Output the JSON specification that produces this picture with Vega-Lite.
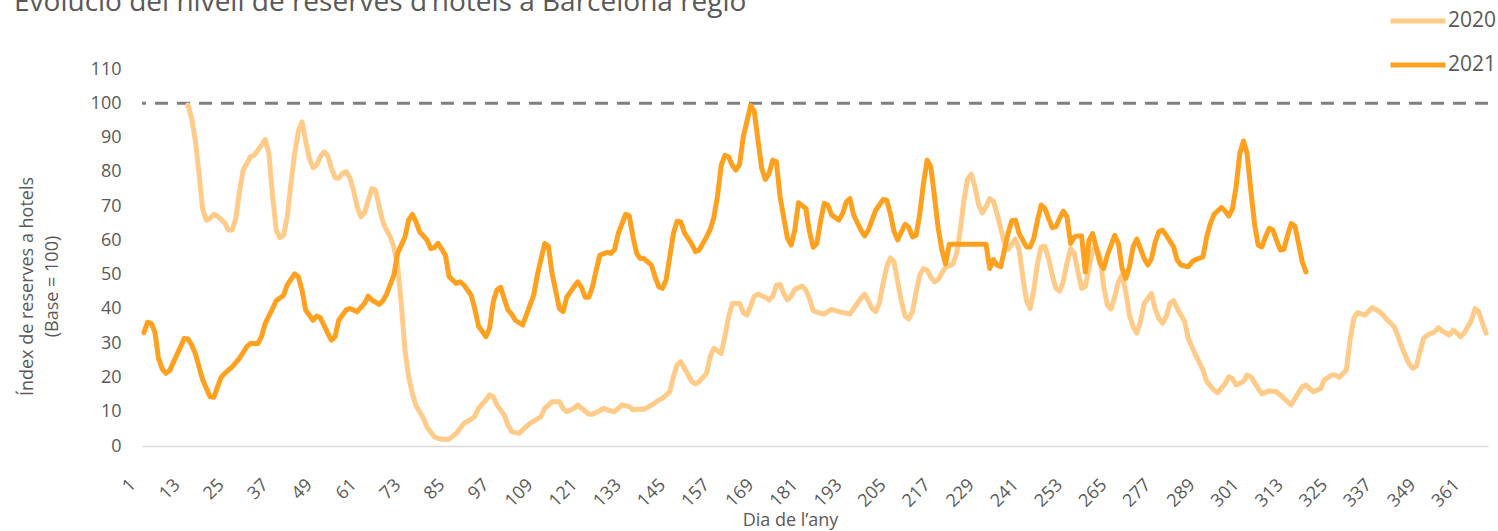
{
  "$schema": "https://vega.github.io/schema/vega-lite/v6.json",
  "width": 1346,
  "height": 377,
  "autosize": {"type": "none"},
  "padding": {"left": 142, "top": 69, "right": 10, "bottom": 85},
  "background": "white",
  "config": {"view": {"stroke": null}, "font": "Open Sans"},
  "title": {
    "text": "Evolució del nivell de reserves d’hotels a Barcelona regió",
    "anchor": "start",
    "frame": "group",
    "dx": -128,
    "offset": -48,
    "baseline": "alphabetic",
    "fontSize": 28,
    "fontWeight": "normal",
    "color": "#595959",
    "font": "Open Sans"
  },
  "encoding": {
    "y": {
      "field": "value", "type": "quantitative",
      "scale": {"domain": [0, 110], "nice": false},
      "axis": {
        "values": [0,10,20,30,40,50,60,70,80,90,100,110],
        "grid": false, "domain": false, "ticks": false, "tickSize": 0,
        "labelOverlap": false, "labelFlush": false, "labelBound": false,
        "labelPadding": 21, "labelFontSize": 18, "labelColor": "#595959", "labelFont": "Open Sans",
        "title": ["Índex de reserves a hotels", "(Base = 100)"],
        "titleFontSize": 18, "titleFontWeight": "normal", "titleColor": "#595959", "titleFont": "Open Sans",
        "titleX": -110, "titleY": 217, "titleAngle": -90, "titleBaseline": "alphabetic", "titleAlign": "center", "titleLineHeight": 25
      }
    }
  },
  "layer": [
    {
      "data": {"values": [{"value": 100}]},
      "mark": {"type": "rule", "color": "#7f7f7f", "strokeWidth": 3, "strokeDash": [13, 9]}
    },
    {
      "data": {"name": "series", "values": [
        {"year":"2020","day":13,"value":99.5},{"year":"2020","day":14,"value":95.5},{"year":"2020","day":15,"value":89.2},{"year":"2020","day":16,"value":79.5},{"year":"2020","day":17,"value":69.0},{"year":"2020","day":18,"value":65.9},{"year":"2020","day":19,"value":66.4},{"year":"2020","day":20,"value":67.6},{"year":"2020","day":21,"value":67.1},{"year":"2020","day":23,"value":65.1},{"year":"2020","day":24,"value":63.0},{"year":"2020","day":25,"value":63.0},{"year":"2020","day":26,"value":66.4},{"year":"2020","day":27,"value":74.2},{"year":"2020","day":28,"value":80.5},{"year":"2020","day":30,"value":84.4},{"year":"2020","day":31,"value":84.8},{"year":"2020","day":33,"value":87.8},{"year":"2020","day":34,"value":89.4},{"year":"2020","day":35,"value":85.3},{"year":"2020","day":36,"value":73.0},{"year":"2020","day":37,"value":63.0},{"year":"2020","day":38,"value":60.8},{"year":"2020","day":39,"value":61.5},{"year":"2020","day":40,"value":66.9},{"year":"2020","day":41,"value":76.6},{"year":"2020","day":42,"value":85.3},{"year":"2020","day":43,"value":91.7},{"year":"2020","day":44,"value":94.6},{"year":"2020","day":45,"value":89.0},{"year":"2020","day":46,"value":84.0},{"year":"2020","day":47,"value":81.2},{"year":"2020","day":48,"value":82.0},{"year":"2020","day":49,"value":84.5},{"year":"2020","day":50,"value":85.8},{"year":"2020","day":51,"value":84.8},{"year":"2020","day":52,"value":81.0},{"year":"2020","day":53,"value":78.3},{"year":"2020","day":54,"value":78.1},{"year":"2020","day":55,"value":79.5},{"year":"2020","day":56,"value":80.0},{"year":"2020","day":57,"value":78.3},{"year":"2020","day":58,"value":74.6},{"year":"2020","day":59,"value":69.8},{"year":"2020","day":60,"value":66.9},{"year":"2020","day":61,"value":68.0},{"year":"2020","day":62,"value":71.7},{"year":"2020","day":63,"value":75.1},{"year":"2020","day":64,"value":74.6},{"year":"2020","day":65,"value":69.8},{"year":"2020","day":66,"value":65.4},{"year":"2020","day":67,"value":63.0},{"year":"2020","day":68,"value":61.0},{"year":"2020","day":69,"value":58.0},{"year":"2020","day":70,"value":52.5},{"year":"2020","day":71,"value":41.5},{"year":"2020","day":72,"value":28.0},{"year":"2020","day":73,"value":20.2},{"year":"2020","day":74,"value":15.4},{"year":"2020","day":75,"value":11.8},{"year":"2020","day":77,"value":8.1},{"year":"2020","day":78,"value":5.5},{"year":"2020","day":80,"value":2.7},{"year":"2020","day":81,"value":2.2},{"year":"2020","day":82,"value":2.0},{"year":"2020","day":84,"value":2.0},{"year":"2020","day":86,"value":3.7},{"year":"2020","day":88,"value":6.6},{"year":"2020","day":90,"value":7.8},{"year":"2020","day":91,"value":8.6},{"year":"2020","day":92,"value":11.0},{"year":"2020","day":94,"value":13.4},{"year":"2020","day":95,"value":14.9},{"year":"2020","day":96,"value":14.4},{"year":"2020","day":97,"value":12.0},{"year":"2020","day":99,"value":9.0},{"year":"2020","day":100,"value":6.1},{"year":"2020","day":101,"value":4.2},{"year":"2020","day":103,"value":3.7},{"year":"2020","day":104,"value":4.7},{"year":"2020","day":106,"value":6.6},{"year":"2020","day":109,"value":8.6},{"year":"2020","day":110,"value":11.0},{"year":"2020","day":112,"value":12.9},{"year":"2020","day":114,"value":12.9},{"year":"2020","day":115,"value":11.0},{"year":"2020","day":116,"value":10.0},{"year":"2020","day":118,"value":11.0},{"year":"2020","day":119,"value":12.0},{"year":"2020","day":120,"value":11.0},{"year":"2020","day":122,"value":9.3},{"year":"2020","day":123,"value":9.3},{"year":"2020","day":125,"value":10.3},{"year":"2020","day":126,"value":11.0},{"year":"2020","day":127,"value":10.5},{"year":"2020","day":129,"value":10.0},{"year":"2020","day":130,"value":11.0},{"year":"2020","day":131,"value":12.0},{"year":"2020","day":133,"value":11.5},{"year":"2020","day":134,"value":10.5},{"year":"2020","day":135,"value":10.7},{"year":"2020","day":137,"value":10.7},{"year":"2020","day":138,"value":11.3},{"year":"2020","day":140,"value":12.6},{"year":"2020","day":141,"value":13.4},{"year":"2020","day":142,"value":13.9},{"year":"2020","day":144,"value":15.8},{"year":"2020","day":145,"value":20.2},{"year":"2020","day":146,"value":23.6},{"year":"2020","day":147,"value":24.6},{"year":"2020","day":148,"value":22.7},{"year":"2020","day":150,"value":18.8},{"year":"2020","day":151,"value":18.1},{"year":"2020","day":152,"value":18.8},{"year":"2020","day":154,"value":21.2},{"year":"2020","day":155,"value":26.1},{"year":"2020","day":156,"value":28.5},{"year":"2020","day":157,"value":27.8},{"year":"2020","day":158,"value":27.0},{"year":"2020","day":159,"value":31.9},{"year":"2020","day":160,"value":37.7},{"year":"2020","day":161,"value":41.6},{"year":"2020","day":163,"value":41.6},{"year":"2020","day":164,"value":38.9},{"year":"2020","day":165,"value":38.2},{"year":"2020","day":166,"value":40.8},{"year":"2020","day":167,"value":43.7},{"year":"2020","day":168,"value":44.3},{"year":"2020","day":170,"value":43.4},{"year":"2020","day":171,"value":42.6},{"year":"2020","day":172,"value":43.7},{"year":"2020","day":173,"value":46.9},{"year":"2020","day":174,"value":47.1},{"year":"2020","day":175,"value":44.5},{"year":"2020","day":176,"value":42.6},{"year":"2020","day":177,"value":43.7},{"year":"2020","day":178,"value":45.7},{"year":"2020","day":180,"value":46.7},{"year":"2020","day":181,"value":45.5},{"year":"2020","day":182,"value":43.0},{"year":"2020","day":183,"value":39.5},{"year":"2020","day":184,"value":39.0},{"year":"2020","day":186,"value":38.5},{"year":"2020","day":188,"value":39.9},{"year":"2020","day":190,"value":39.2},{"year":"2020","day":193,"value":38.5},{"year":"2020","day":194,"value":40.1},{"year":"2020","day":196,"value":43.1},{"year":"2020","day":197,"value":44.3},{"year":"2020","day":198,"value":42.4},{"year":"2020","day":199,"value":40.1},{"year":"2020","day":200,"value":39.2},{"year":"2020","day":201,"value":41.8},{"year":"2020","day":202,"value":47.4},{"year":"2020","day":203,"value":52.3},{"year":"2020","day":204,"value":54.9},{"year":"2020","day":205,"value":53.7},{"year":"2020","day":206,"value":47.9},{"year":"2020","day":207,"value":42.1},{"year":"2020","day":208,"value":37.9},{"year":"2020","day":209,"value":37.0},{"year":"2020","day":210,"value":39.2},{"year":"2020","day":211,"value":45.0},{"year":"2020","day":212,"value":49.9},{"year":"2020","day":213,"value":51.8},{"year":"2020","day":214,"value":51.3},{"year":"2020","day":215,"value":49.2},{"year":"2020","day":216,"value":47.9},{"year":"2020","day":217,"value":48.6},{"year":"2020","day":218,"value":50.5},{"year":"2020","day":219,"value":52.1},{"year":"2020","day":221,"value":53.1},{"year":"2020","day":222,"value":56.2},{"year":"2020","day":223,"value":63.0},{"year":"2020","day":224,"value":71.7},{"year":"2020","day":225,"value":78.0},{"year":"2020","day":226,"value":79.3},{"year":"2020","day":227,"value":75.6},{"year":"2020","day":228,"value":70.3},{"year":"2020","day":229,"value":68.0},{"year":"2020","day":230,"value":69.8},{"year":"2020","day":231,"value":72.2},{"year":"2020","day":232,"value":71.4},{"year":"2020","day":233,"value":67.8},{"year":"2020","day":234,"value":63.5},{"year":"2020","day":235,"value":59.1},{"year":"2020","day":236,"value":57.3},{"year":"2020","day":237,"value":58.9},{"year":"2020","day":238,"value":60.4},{"year":"2020","day":239,"value":57.2},{"year":"2020","day":240,"value":49.4},{"year":"2020","day":241,"value":42.4},{"year":"2020","day":242,"value":40.1},{"year":"2020","day":243,"value":45.5},{"year":"2020","day":244,"value":53.3},{"year":"2020","day":245,"value":58.1},{"year":"2020","day":246,"value":58.3},{"year":"2020","day":247,"value":54.7},{"year":"2020","day":248,"value":49.9},{"year":"2020","day":249,"value":46.0},{"year":"2020","day":250,"value":45.2},{"year":"2020","day":251,"value":47.9},{"year":"2020","day":252,"value":53.3},{"year":"2020","day":253,"value":57.6},{"year":"2020","day":254,"value":56.2},{"year":"2020","day":255,"value":50.8},{"year":"2020","day":256,"value":46.0},{"year":"2020","day":257,"value":46.5},{"year":"2020","day":258,"value":51.8},{"year":"2020","day":259,"value":57.3},{"year":"2020","day":260,"value":58.1},{"year":"2020","day":261,"value":55.2},{"year":"2020","day":262,"value":46.5},{"year":"2020","day":263,"value":41.1},{"year":"2020","day":264,"value":40.0},{"year":"2020","day":265,"value":43.5},{"year":"2020","day":266,"value":47.9},{"year":"2020","day":267,"value":49.9},{"year":"2020","day":268,"value":45.0},{"year":"2020","day":269,"value":38.2},{"year":"2020","day":270,"value":34.8},{"year":"2020","day":271,"value":32.9},{"year":"2020","day":272,"value":36.3},{"year":"2020","day":273,"value":41.6},{"year":"2020","day":275,"value":44.5},{"year":"2020","day":276,"value":40.0},{"year":"2020","day":277,"value":37.2},{"year":"2020","day":278,"value":35.8},{"year":"2020","day":279,"value":37.7},{"year":"2020","day":280,"value":41.6},{"year":"2020","day":281,"value":42.4},{"year":"2020","day":282,"value":40.1},{"year":"2020","day":284,"value":36.3},{"year":"2020","day":285,"value":31.4},{"year":"2020","day":287,"value":26.5},{"year":"2020","day":289,"value":22.2},{"year":"2020","day":290,"value":18.8},{"year":"2020","day":292,"value":16.3},{"year":"2020","day":293,"value":15.6},{"year":"2020","day":295,"value":18.1},{"year":"2020","day":296,"value":20.2},{"year":"2020","day":297,"value":19.7},{"year":"2020","day":298,"value":17.8},{"year":"2020","day":300,"value":18.8},{"year":"2020","day":301,"value":20.7},{"year":"2020","day":302,"value":20.2},{"year":"2020","day":304,"value":16.8},{"year":"2020","day":305,"value":15.2},{"year":"2020","day":307,"value":16.1},{"year":"2020","day":309,"value":15.8},{"year":"2020","day":310,"value":14.9},{"year":"2020","day":312,"value":12.9},{"year":"2020","day":313,"value":12.0},{"year":"2020","day":314,"value":13.9},{"year":"2020","day":316,"value":17.3},{"year":"2020","day":317,"value":17.8},{"year":"2020","day":319,"value":15.8},{"year":"2020","day":321,"value":16.8},{"year":"2020","day":322,"value":19.3},{"year":"2020","day":324,"value":20.7},{"year":"2020","day":325,"value":20.7},{"year":"2020","day":326,"value":20.0},{"year":"2020","day":328,"value":22.2},{"year":"2020","day":329,"value":31.0},{"year":"2020","day":330,"value":37.2},{"year":"2020","day":331,"value":38.9},{"year":"2020","day":333,"value":38.2},{"year":"2020","day":334,"value":39.2},{"year":"2020","day":335,"value":40.4},{"year":"2020","day":337,"value":39.2},{"year":"2020","day":338,"value":38.2},{"year":"2020","day":339,"value":36.9},{"year":"2020","day":341,"value":34.8},{"year":"2020","day":342,"value":32.1},{"year":"2020","day":343,"value":29.0},{"year":"2020","day":344,"value":26.5},{"year":"2020","day":345,"value":24.0},{"year":"2020","day":346,"value":22.7},{"year":"2020","day":347,"value":23.3},{"year":"2020","day":348,"value":27.5},{"year":"2020","day":349,"value":31.4},{"year":"2020","day":350,"value":32.4},{"year":"2020","day":352,"value":33.3},{"year":"2020","day":353,"value":34.5},{"year":"2020","day":354,"value":33.6},{"year":"2020","day":356,"value":32.4},{"year":"2020","day":357,"value":33.8},{"year":"2020","day":358,"value":33.0},{"year":"2020","day":359,"value":31.9},{"year":"2020","day":360,"value":32.9},{"year":"2020","day":362,"value":36.7},{"year":"2020","day":363,"value":40.1},{"year":"2020","day":364,"value":39.2},{"year":"2020","day":365,"value":35.8},{"year":"2020","day":366,"value":32.9},
        {"year":"2021","day":1,"value":33.1},{"year":"2021","day":2,"value":36.1},{"year":"2021","day":3,"value":35.8},{"year":"2021","day":4,"value":33.3},{"year":"2021","day":5,"value":25.5},{"year":"2021","day":6,"value":22.5},{"year":"2021","day":7,"value":21.2},{"year":"2021","day":8,"value":22.0},{"year":"2021","day":11,"value":29.0},{"year":"2021","day":12,"value":31.4},{"year":"2021","day":13,"value":31.2},{"year":"2021","day":14,"value":29.5},{"year":"2021","day":15,"value":27.0},{"year":"2021","day":17,"value":19.3},{"year":"2021","day":19,"value":14.4},{"year":"2021","day":20,"value":14.2},{"year":"2021","day":22,"value":20.0},{"year":"2021","day":23,"value":21.2},{"year":"2021","day":25,"value":23.1},{"year":"2021","day":27,"value":25.6},{"year":"2021","day":29,"value":29.0},{"year":"2021","day":30,"value":29.9},{"year":"2021","day":32,"value":29.9},{"year":"2021","day":33,"value":31.9},{"year":"2021","day":34,"value":35.8},{"year":"2021","day":36,"value":40.1},{"year":"2021","day":37,"value":42.4},{"year":"2021","day":39,"value":44.0},{"year":"2021","day":40,"value":47.0},{"year":"2021","day":42,"value":50.2},{"year":"2021","day":43,"value":49.4},{"year":"2021","day":44,"value":45.5},{"year":"2021","day":45,"value":39.7},{"year":"2021","day":47,"value":36.7},{"year":"2021","day":48,"value":37.9},{"year":"2021","day":49,"value":37.4},{"year":"2021","day":51,"value":32.9},{"year":"2021","day":52,"value":30.9},{"year":"2021","day":53,"value":31.9},{"year":"2021","day":54,"value":36.7},{"year":"2021","day":56,"value":39.7},{"year":"2021","day":57,"value":40.1},{"year":"2021","day":59,"value":39.2},{"year":"2021","day":61,"value":41.6},{"year":"2021","day":62,"value":43.7},{"year":"2021","day":63,"value":42.6},{"year":"2021","day":65,"value":41.3},{"year":"2021","day":66,"value":42.4},{"year":"2021","day":67,"value":44.3},{"year":"2021","day":69,"value":49.9},{"year":"2021","day":70,"value":56.2},{"year":"2021","day":72,"value":61.0},{"year":"2021","day":73,"value":65.9},{"year":"2021","day":74,"value":67.6},{"year":"2021","day":75,"value":65.4},{"year":"2021","day":76,"value":62.5},{"year":"2021","day":78,"value":60.1},{"year":"2021","day":79,"value":57.6},{"year":"2021","day":80,"value":57.9},{"year":"2021","day":81,"value":59.1},{"year":"2021","day":83,"value":55.7},{"year":"2021","day":84,"value":49.4},{"year":"2021","day":86,"value":47.4},{"year":"2021","day":87,"value":47.9},{"year":"2021","day":88,"value":47.0},{"year":"2021","day":90,"value":44.0},{"year":"2021","day":91,"value":40.0},{"year":"2021","day":92,"value":35.0},{"year":"2021","day":94,"value":31.9},{"year":"2021","day":95,"value":34.3},{"year":"2021","day":96,"value":42.0},{"year":"2021","day":97,"value":45.5},{"year":"2021","day":98,"value":46.3},{"year":"2021","day":100,"value":39.7},{"year":"2021","day":101,"value":38.5},{"year":"2021","day":102,"value":36.7},{"year":"2021","day":104,"value":35.3},{"year":"2021","day":105,"value":38.2},{"year":"2021","day":107,"value":44.0},{"year":"2021","day":108,"value":49.9},{"year":"2021","day":110,"value":59.1},{"year":"2021","day":111,"value":58.3},{"year":"2021","day":112,"value":50.3},{"year":"2021","day":114,"value":40.1},{"year":"2021","day":115,"value":39.2},{"year":"2021","day":116,"value":43.4},{"year":"2021","day":118,"value":46.5},{"year":"2021","day":119,"value":47.9},{"year":"2021","day":120,"value":46.3},{"year":"2021","day":121,"value":43.4},{"year":"2021","day":122,"value":43.4},{"year":"2021","day":123,"value":46.5},{"year":"2021","day":124,"value":51.3},{"year":"2021","day":125,"value":55.7},{"year":"2021","day":127,"value":56.5},{"year":"2021","day":128,"value":56.2},{"year":"2021","day":129,"value":57.3},{"year":"2021","day":130,"value":62.0},{"year":"2021","day":132,"value":67.6},{"year":"2021","day":133,"value":67.1},{"year":"2021","day":134,"value":61.0},{"year":"2021","day":135,"value":56.2},{"year":"2021","day":136,"value":54.7},{"year":"2021","day":137,"value":54.7},{"year":"2021","day":139,"value":52.8},{"year":"2021","day":140,"value":49.4},{"year":"2021","day":141,"value":46.5},{"year":"2021","day":142,"value":46.0},{"year":"2021","day":143,"value":48.4},{"year":"2021","day":144,"value":55.2},{"year":"2021","day":145,"value":62.0},{"year":"2021","day":146,"value":65.6},{"year":"2021","day":147,"value":65.4},{"year":"2021","day":148,"value":62.2},{"year":"2021","day":150,"value":58.9},{"year":"2021","day":151,"value":56.7},{"year":"2021","day":152,"value":57.2},{"year":"2021","day":154,"value":61.0},{"year":"2021","day":155,"value":63.2},{"year":"2021","day":156,"value":66.7},{"year":"2021","day":157,"value":73.0},{"year":"2021","day":158,"value":81.9},{"year":"2021","day":159,"value":84.8},{"year":"2021","day":160,"value":84.4},{"year":"2021","day":161,"value":81.9},{"year":"2021","day":162,"value":80.5},{"year":"2021","day":163,"value":82.2},{"year":"2021","day":164,"value":90.2},{"year":"2021","day":166,"value":99.4},{"year":"2021","day":167,"value":97.5},{"year":"2021","day":168,"value":89.2},{"year":"2021","day":169,"value":81.0},{"year":"2021","day":170,"value":77.8},{"year":"2021","day":171,"value":79.5},{"year":"2021","day":172,"value":83.4},{"year":"2021","day":173,"value":82.9},{"year":"2021","day":174,"value":72.7},{"year":"2021","day":176,"value":60.6},{"year":"2021","day":177,"value":58.6},{"year":"2021","day":178,"value":63.0},{"year":"2021","day":179,"value":71.0},{"year":"2021","day":181,"value":69.3},{"year":"2021","day":182,"value":62.5},{"year":"2021","day":183,"value":58.0},{"year":"2021","day":184,"value":59.1},{"year":"2021","day":185,"value":65.5},{"year":"2021","day":186,"value":70.8},{"year":"2021","day":187,"value":70.3},{"year":"2021","day":188,"value":67.4},{"year":"2021","day":190,"value":65.9},{"year":"2021","day":191,"value":67.8},{"year":"2021","day":192,"value":71.2},{"year":"2021","day":193,"value":72.2},{"year":"2021","day":194,"value":67.4},{"year":"2021","day":196,"value":63.0},{"year":"2021","day":197,"value":61.3},{"year":"2021","day":198,"value":63.0},{"year":"2021","day":200,"value":68.8},{"year":"2021","day":201,"value":70.3},{"year":"2021","day":202,"value":71.9},{"year":"2021","day":203,"value":71.7},{"year":"2021","day":204,"value":67.8},{"year":"2021","day":205,"value":62.5},{"year":"2021","day":206,"value":60.1},{"year":"2021","day":207,"value":62.5},{"year":"2021","day":208,"value":64.7},{"year":"2021","day":209,"value":63.8},{"year":"2021","day":210,"value":61.0},{"year":"2021","day":211,"value":61.5},{"year":"2021","day":212,"value":67.8},{"year":"2021","day":213,"value":76.6},{"year":"2021","day":214,"value":83.4},{"year":"2021","day":215,"value":81.4},{"year":"2021","day":216,"value":72.7},{"year":"2021","day":217,"value":63.5},{"year":"2021","day":218,"value":57.2},{"year":"2021","day":219,"value":53.1},{"year":"2021","day":220,"value":58.9},{"year":"2021","day":221,"value":58.9},{"year":"2021","day":222,"value":58.9},{"year":"2021","day":223,"value":58.9},{"year":"2021","day":224,"value":58.9},{"year":"2021","day":225,"value":58.9},{"year":"2021","day":226,"value":58.9},{"year":"2021","day":227,"value":58.9},{"year":"2021","day":228,"value":58.9},{"year":"2021","day":229,"value":58.9},{"year":"2021","day":230,"value":58.9},{"year":"2021","day":231,"value":51.8},{"year":"2021","day":232,"value":54.4},{"year":"2021","day":233,"value":52.8},{"year":"2021","day":234,"value":52.3},{"year":"2021","day":235,"value":57.2},{"year":"2021","day":236,"value":62.0},{"year":"2021","day":237,"value":65.7},{"year":"2021","day":238,"value":65.9},{"year":"2021","day":239,"value":62.0},{"year":"2021","day":241,"value":58.1},{"year":"2021","day":242,"value":58.1},{"year":"2021","day":243,"value":60.6},{"year":"2021","day":244,"value":65.9},{"year":"2021","day":245,"value":70.3},{"year":"2021","day":246,"value":69.3},{"year":"2021","day":247,"value":66.4},{"year":"2021","day":248,"value":63.7},{"year":"2021","day":249,"value":64.0},{"year":"2021","day":250,"value":66.4},{"year":"2021","day":251,"value":68.5},{"year":"2021","day":252,"value":66.9},{"year":"2021","day":253,"value":59.1},{"year":"2021","day":254,"value":61.0},{"year":"2021","day":255,"value":61.3},{"year":"2021","day":256,"value":61.3},{"year":"2021","day":257,"value":50.8},{"year":"2021","day":258,"value":60.0},{"year":"2021","day":259,"value":62.0},{"year":"2021","day":260,"value":57.6},{"year":"2021","day":261,"value":53.3},{"year":"2021","day":262,"value":51.8},{"year":"2021","day":263,"value":55.7},{"year":"2021","day":265,"value":61.5},{"year":"2021","day":266,"value":59.1},{"year":"2021","day":267,"value":51.8},{"year":"2021","day":268,"value":48.9},{"year":"2021","day":269,"value":52.3},{"year":"2021","day":270,"value":58.1},{"year":"2021","day":271,"value":60.4},{"year":"2021","day":272,"value":57.6},{"year":"2021","day":273,"value":54.7},{"year":"2021","day":274,"value":52.8},{"year":"2021","day":275,"value":54.7},{"year":"2021","day":276,"value":59.5},{"year":"2021","day":277,"value":62.5},{"year":"2021","day":278,"value":63.0},{"year":"2021","day":279,"value":61.5},{"year":"2021","day":281,"value":58.1},{"year":"2021","day":282,"value":54.2},{"year":"2021","day":283,"value":52.8},{"year":"2021","day":285,"value":52.3},{"year":"2021","day":286,"value":53.7},{"year":"2021","day":287,"value":54.4},{"year":"2021","day":289,"value":55.2},{"year":"2021","day":290,"value":61.0},{"year":"2021","day":291,"value":64.9},{"year":"2021","day":292,"value":67.6},{"year":"2021","day":294,"value":69.6},{"year":"2021","day":295,"value":68.6},{"year":"2021","day":296,"value":67.1},{"year":"2021","day":297,"value":69.1},{"year":"2021","day":298,"value":75.6},{"year":"2021","day":299,"value":85.3},{"year":"2021","day":300,"value":89.0},{"year":"2021","day":301,"value":85.3},{"year":"2021","day":302,"value":74.6},{"year":"2021","day":303,"value":64.9},{"year":"2021","day":304,"value":58.6},{"year":"2021","day":305,"value":58.1},{"year":"2021","day":306,"value":61.0},{"year":"2021","day":307,"value":63.5},{"year":"2021","day":308,"value":63.0},{"year":"2021","day":309,"value":60.1},{"year":"2021","day":310,"value":57.2},{"year":"2021","day":311,"value":57.4},{"year":"2021","day":312,"value":61.5},{"year":"2021","day":313,"value":64.9},{"year":"2021","day":314,"value":64.1},{"year":"2021","day":315,"value":59.1},{"year":"2021","day":316,"value":53.7},{"year":"2021","day":317,"value":50.8}
      ]},
      "mark": {"type": "line", "strokeWidth": 5, "strokeCap": "round", "strokeJoin": "round"},
      "encoding": {
        "x": {
          "field": "day", "type": "quantitative",
          "scale": {"domain": [0.5, 366.5], "nice": false, "zero": false},
          "axis": {
            "values": [1,13,25,37,49,61,73,85,97,109,121,133,145,157,169,181,193,205,217,229,241,253,265,277,289,301,313,325,337,349,361],
            "labelAngle": -45, "labelAlign": "right", "labelBaseline": "middle",
            "labelOffset": -11, "labelPadding": 36, "labelOverlap": false, "labelFlush": false, "labelBound": false,
            "ticks": false, "tickSize": 0, "grid": false,
            "domainColor": "#d9d9d9", "domainWidth": 1.5,
            "labelFontSize": 18, "labelColor": "#595959", "labelFont": "Open Sans",
            "title": "Dia de l’any", "titleFontSize": 18, "titleFontWeight": "normal", "titleColor": "#595959", "titleFont": "Open Sans",
            "titleX": 648, "titleY": 79, "titleBaseline": "alphabetic", "titleAlign": "center"
          }
        },
        "color": {
          "field": "year", "type": "nominal",
          "scale": {"domain": ["2020", "2021"], "range": ["#ffcb89", "#ffa11f"]},
          "legend": {
            "orient": "none", "legendX": 1246, "legendY": -78, "title": null, "padding": 0,
            "direction": "vertical",
            "symbolType": "stroke", "symbolSize": 3025, "symbolStrokeWidth": 5,
            "labelFontSize": 21, "labelColor": "#595959", "labelFont": "Open Sans", "labelOffset": 0,
            "rowPadding": 4
          }
        }
      }
    }
  ]
}
